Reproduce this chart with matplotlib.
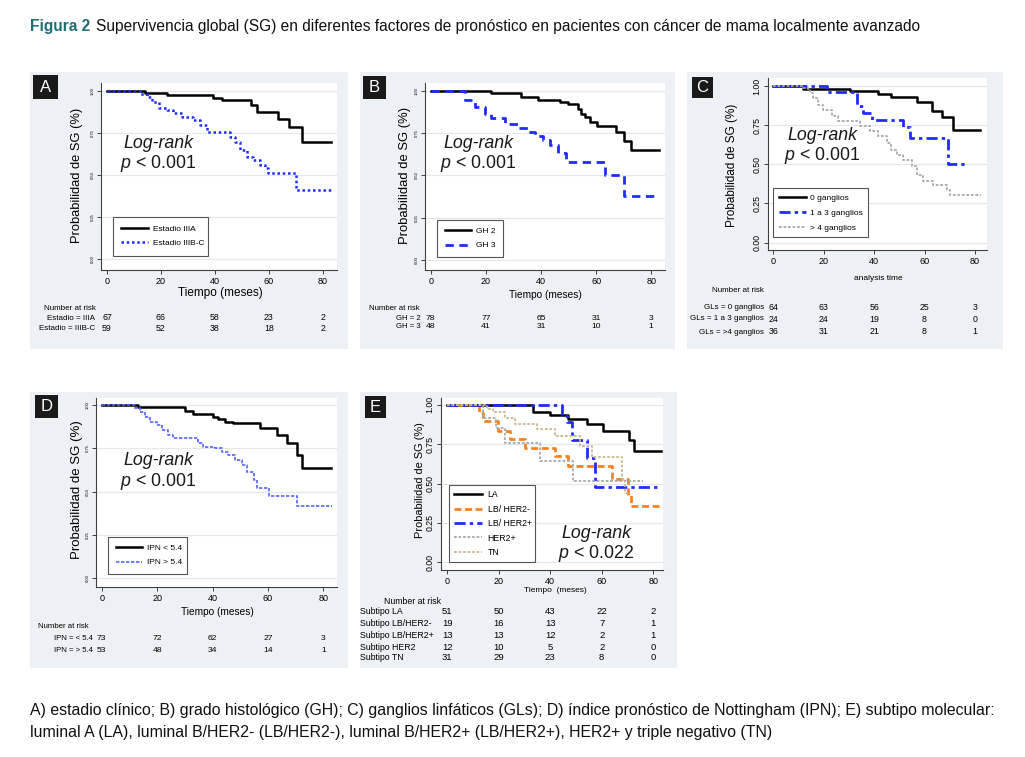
import matplotlib
matplotlib.use("Agg")
import matplotlib.pyplot as plt
import matplotlib.transforms as mtransforms
from matplotlib.patches import Rectangle
from matplotlib.lines import Line2D

plt.rcParams["font.family"] = ["Liberation Sans", "DejaVu Sans"]
plt.rcParams["mathtext.fontset"] = "custom"
plt.rcParams["mathtext.it"] = "Liberation Sans:italic"
plt.rcParams["mathtext.rm"] = "Liberation Sans"

W, H = 1025, 757

# ---- data (time in months, survival) ----
risk_times = [0, 20, 40, 60, 80]
y_tick_labels = ["0.00", "0.25", "0.50", "0.75", "1.00"]

# A) estadio clinico
a_iiia_t = [0, 14.2, 22.2, 39.1, 42.5, 53.5, 55.4, 63.4, 67.4, 72.4, 82.8]
a_iiia_s = [1.0, 0.988, 0.974, 0.958, 0.945, 0.915, 0.875, 0.830, 0.783, 0.698, 0.698]
a_iiibc_t = [0, 12.3, 14.8, 16.6, 19.1, 22.2, 24.6, 27.7, 32.0, 34.5, 36.9, 45.5, 47.4,
             49.2, 51.7, 54.2, 56.6, 58.5, 59.7, 70.2, 82.8]
a_iiibc_s = [1.0, 0.980, 0.964, 0.935, 0.901, 0.885, 0.866, 0.846, 0.826, 0.796, 0.757, 0.727,
             0.698, 0.648, 0.609, 0.589, 0.559, 0.540, 0.514, 0.411, 0.411]
a_risk_labels = ["Estadio = IIIA", "Estadio = IIIB-C"]
a_risk = [[67, 66, 58, 23, 2], [59, 52, 38, 18, 2]]

# B) grado histologico
b_gh2_t = [0, 22.0, 32.9, 38.9, 46.8, 49.8, 53.4, 54.4, 55.8, 57.6, 60.4, 67.3, 70.3, 72.5, 82.8]
b_gh2_s = [1.0, 0.988, 0.965, 0.949, 0.935, 0.921, 0.896, 0.866, 0.843, 0.817, 0.791, 0.758,
           0.705, 0.650, 0.650]
b_gh3_t = [0, 12.3, 15.9, 19.6, 22.0, 26.8, 31.7, 35.3, 37.7, 40.7, 43.1, 46.2, 49.2, 63.1,
           70.3, 82.8]
b_gh3_s = [1.0, 0.945, 0.906, 0.862, 0.837, 0.807, 0.778, 0.758, 0.732, 0.709, 0.679, 0.630,
           0.581, 0.502, 0.378, 0.378]
b_risk_labels = ["GH = 2", "GH = 3"]
b_risk = [[78, 77, 65, 31, 3], [48, 41, 31, 10, 1]]

# C) ganglios linfaticos
c_g0_t = [0, 11.9, 30.4, 41.7, 46.9, 56.9, 62.8, 66.8, 71.4, 82.0]
c_g0_s = [1.0, 0.981, 0.966, 0.949, 0.928, 0.898, 0.843, 0.800, 0.717, 0.717]
c_g13_t = [0, 21.2, 33.1, 35.7, 39.0, 51.6, 54.2, 69.4, 76.7]
c_g13_s = [1.0, 0.962, 0.870, 0.830, 0.785, 0.736, 0.668, 0.500, 0.500]
c_g4_t = [0, 11.9, 13.9, 14.5, 15.9, 17.9, 19.8, 23.1, 25.8, 34.4, 38.3, 41.7, 45.0, 46.9,
          48.9, 51.6, 54.9, 56.9, 59.5, 63.5, 68.8, 70.1, 82.6]
c_g4_s = [1.0, 0.987, 0.980, 0.955, 0.923, 0.880, 0.849, 0.806, 0.774, 0.742, 0.710, 0.678,
          0.636, 0.593, 0.560, 0.528, 0.487, 0.433, 0.391, 0.365, 0.338, 0.305, 0.305]
c_risk_labels = ["GLs = 0 ganglios", "GLs = 1 a 3 ganglios", "GLs = >4 ganglios"]
c_risk = [[64, 63, 56, 25, 3], [24, 24, 19, 8, 0], [36, 31, 21, 8, 1]]

# D) indice pronostico de Nottingham
d_low_t = [0, 13.2, 30.1, 33.1, 40.1, 42.1, 44.5, 47.5, 57.2, 63.2, 66.8, 70.4, 72.2, 82.8]
d_low_s = [1.0, 0.987, 0.967, 0.948, 0.933, 0.917, 0.904, 0.894, 0.865, 0.827, 0.783, 0.712,
           0.635, 0.635]
d_high_t = [0, 12.0, 13.8, 15.6, 17.4, 19.9, 21.7, 24.1, 25.9, 34.9, 36.7, 40.9, 43.3, 45.7,
            48.1, 50.5, 52.3, 54.8, 56.0, 60.2, 70.4, 83.0]
d_high_s = [1.0, 0.981, 0.962, 0.933, 0.904, 0.885, 0.856, 0.827, 0.808, 0.779, 0.760, 0.750,
            0.731, 0.712, 0.683, 0.654, 0.615, 0.567, 0.519, 0.475, 0.417, 0.417]
d_risk_labels = ["IPN = < 5.4", "IPN = > 5.4"]
d_risk = [[73, 72, 62, 27, 3], [53, 48, 34, 14, 1]]

# E) subtipo molecular
e_la_t = [0, 33.2, 39.9, 47.0, 54.1, 60.6, 70.7, 72.6, 82.9]
e_la_s = [1.0, 0.958, 0.936, 0.909, 0.877, 0.835, 0.780, 0.708, 0.708]
e_lbn_t = [0, 12.4, 13.7, 19.8, 24.4, 30.2, 41.8, 47.0, 63.8, 70.3, 71.2, 83.0]
e_lbn_s = [1.0, 0.951, 0.898, 0.835, 0.782, 0.729, 0.676, 0.612, 0.528, 0.430, 0.358, 0.358]
e_lbp_t = [0, 44.4, 46.5, 48.3, 54.1, 57.4, 83.0]
e_lbp_s = [1.0, 0.930, 0.890, 0.775, 0.665, 0.479, 0.479]
e_her2_t = [0, 14.0, 18.9, 22.4, 36.0, 48.9, 76.1]
e_her2_s = [1.0, 0.920, 0.852, 0.760, 0.644, 0.517, 0.517]
e_tn_t = [0, 15.3, 17.9, 22.4, 26.3, 34.7, 41.8, 51.5, 56.1, 67.7, 69.0, 71.0]
e_tn_s = [1.0, 0.972, 0.955, 0.920, 0.877, 0.845, 0.803, 0.740, 0.670, 0.528, 0.440, 0.440]
e_risk_labels = ["Subtipo LA", "Subtipo LB/HER2-", "Subtipo LB/HER2+", "Subtipo HER2", "Subtipo TN"]
e_risk = [[51, 50, 43, 22, 2], [19, 16, 13, 7, 1], [13, 13, 12, 2, 1], [12, 10, 5, 2, 0],
          [31, 29, 23, 8, 0]]

# ---- styles ----
BLACK = dict(color="black", lw=1.8, ls="-")
BLUE_DOT = dict(color="#1f2bff", lw=1.8, ls=(0, (1, 1.1)))
BLUE_DASH = dict(color="#1f2bff", lw=2.0, ls=(0, (3, 2)))
BLUE_LDASH = dict(color="#1f2bff", lw=2.0, ls=(0, (4, 1.5, 1.2, 1.5)))
BLUE_FINE = dict(color="#5563ff", lw=1.2, ls=(0, (2, 1)))
GRAY_DOT = dict(color="#a8a8a8", lw=1.3, ls=(0, (1.5, 1)))
ORANGE_DASH = dict(color="#f5821f", lw=2.0, ls=(0, (2.5, 1.3)))
KHAKI_DOT = dict(color="#c8b88a", lw=1.3, ls=(0, (1.5, 1)))
PANEL_BG = "#edf0f4"
GRID = "#e2e8ee"

fig = plt.figure(figsize=(W / 100, H / 100), dpi=100)


def fx(x):
    return x / W


def fy(y):
    return 1 - y / H


def panel(box, letter, lbox):
    x0, y0, x1, y1 = box
    fig.patches.append(Rectangle((fx(x0), fy(y1)), (x1 - x0) / W, (y1 - y0) / H,
                                 transform=fig.transFigure, facecolor=PANEL_BG,
                                 edgecolor="none", zorder=-2))
    lx0, ly0, lx1, ly1 = lbox
    fig.patches.append(Rectangle((fx(lx0), fy(ly1)), (lx1 - lx0) / W, (ly1 - ly0) / H,
                                 transform=fig.transFigure, facecolor="#1a1a1a",
                                 edgecolor="none", zorder=1))
    fig.text(fx((lx0 + lx1) / 2), fy((ly0 + ly1) / 2), letter, color="white", fontsize=12,
             ha="center", va="center")


def make_axes(box, xlim, ylim, ytick_size, xtick_size):
    left, top, right, bottom = box
    ax = fig.add_axes([fx(left), fy(bottom), (right - left) / W, (bottom - top) / H])
    ax.set_xlim(*xlim)
    ax.set_ylim(*ylim)
    ax.set_facecolor("white")
    ax.spines["top"].set_visible(False)
    ax.spines["right"].set_visible(False)
    for s in ["left", "bottom"]:
        ax.spines[s].set_color("#404040")
        ax.spines[s].set_linewidth(0.8)
    ax.set_xticks(risk_times)
    ax.set_yticks([0, 0.25, 0.5, 0.75, 1.0])
    ax.set_yticklabels(y_tick_labels, rotation=90, va="center")
    ax.tick_params(axis="x", length=3, width=0.7, pad=2, labelsize=xtick_size, color="#404040")
    ax.tick_params(axis="y", length=3, width=0.7, pad=1.5, labelsize=ytick_size,
                   color="#404040")
    ax.grid(axis="y", color=GRID, lw=0.9)
    ax.set_axisbelow(True)
    return ax


def curve(ax, t, s, style):
    ax.step(t, s, where="post", **style)
    return Line2D([], [], **style)


def legend(ax, handles, labels, box, size, spacing, pad):
    x0, y0, x1, y1 = box
    leg = ax.legend(handles, labels, loc="upper left",
                    bbox_to_anchor=(fx(x0), fy(y0), (x1 - x0) / W, 0),
                    bbox_transform=fig.transFigure, mode="expand", borderaxespad=0,
                    fontsize=size, handlelength=3.2, handletextpad=0.6,
                    labelspacing=spacing, borderpad=pad, fancybox=False,
                    framealpha=1, edgecolor="#555555")
    leg.get_frame().set_linewidth(0.8)


def logrank(x, y1, y2, ptxt, size=12.8):
    fig.text(fx(x), fy(y1), "Log-rank", fontsize=size, style="italic",
             ha="center", va="center", color="#1a1a1a")
    fig.text(fx(x), fy(y2), r"$\it{p}$ < " + ptxt, fontsize=size,
             ha="center", va="center", color="#1a1a1a")


def risk_table(ax, head_xy, rows_y, labels, values, label_x, align, size):
    fig.text(fx(head_xy[0]), fy(head_xy[1]), "Number at risk", fontsize=size,
             ha="left", va="center")
    tr = mtransforms.blended_transform_factory(ax.transData, fig.transFigure)
    for lab, vals, yy in zip(labels, values, rows_y):
        fig.text(fx(label_x), fy(yy), lab, fontsize=size, ha=align, va="center")
        for t, v in zip(risk_times, vals):
            ax.text(t, fy(yy), str(v), transform=tr, fontsize=size + 0.5, ha="center",
                    va="center", clip_on=False)


# ---- title ----
fig.text(fx(30), fy(26), "Figura 2", fontsize=11.2, weight="bold",
         color="#1c6f73", ha="left", va="center")
fig.text(fx(96), fy(26),
         "Supervivencia global (SG) en diferentes factores de pronóstico en pacientes con "
         "cáncer de mama localmente avanzado",
         fontsize=11.2, ha="left", va="center", color="#111111")

# ---- panel A ----
panel((30, 72, 348, 349), "A", (33, 75, 58, 99))
ax = make_axes((101, 83, 337, 270), (-2.2, 85.2), (-0.065, 1.047), 3, 6.5)
h1 = curve(ax, a_iiia_t, a_iiia_s, BLACK)
h2 = curve(ax, a_iiibc_t, a_iiibc_s, BLUE_DOT)
legend(ax, [h1, h2], ["Estadio IIIA", "Estadio IIIB-C"], (113, 217, 208, 257), 6, 0.75, 1.0)
logrank(158, 144, 164, "0.001")
fig.text(fx(220), fy(293), "Tiempo (meses)", fontsize=8.5, ha="center", va="center")
fig.text(fx(77), fy(175), "Probabilidad de SG (%)", fontsize=9.3, rotation=90,
         ha="center", va="center")
risk_table(ax, (44, 308), [318, 328], a_risk_labels, a_risk, 95, "right", 5.8)

# ---- panel B ----
panel((360, 72, 675, 349), "B", (363, 76, 386, 99))
ax = make_axes((425, 83, 665, 270), (-2.1, 85.0), (-0.06, 1.047), 3, 6.5)
h1 = curve(ax, b_gh2_t, b_gh2_s, BLACK)
h2 = curve(ax, b_gh3_t, b_gh3_s, BLUE_DASH)
legend(ax, [h1, h2], ["GH 2", "GH 3"], (437, 220, 503, 257), 6, 0.75, 0.9)
logrank(478, 144, 164, "0.001")
fig.text(fx(545), fy(295), "Tiempo (meses)", fontsize=7.3, ha="center", va="center")
fig.text(fx(405), fy(175), "Probabilidad de SG (%)", fontsize=9.4, rotation=90,
         ha="center", va="center")
risk_table(ax, (369, 308), [318, 327], b_risk_labels, b_risk, 421, "right", 5.6)

# ---- panel C ----
panel((687, 72, 1003, 349), "C", (692, 77, 713, 98))
ax = make_axes((768, 78, 987, 250), (-2.1, 84.8), (-0.047, 1.051), 6.3, 6.5)
h1 = curve(ax, c_g0_t, c_g0_s, BLACK)
h2 = curve(ax, c_g13_t, c_g13_s, BLUE_LDASH)
h3 = curve(ax, c_g4_t, c_g4_s, GRAY_DOT)
legend(ax, [h1, h2, h3], ["0 ganglios", "1 a 3 ganglios", "> 4 ganglios"],
       (773, 188, 868, 243), 6, 0.85, 0.7)
logrank(822, 135, 155, "0.001")
fig.text(fx(878), fy(278), "analysis time", fontsize=6, ha="center", va="center")
fig.text(fx(732), fy(165), "Probabilidad de SG (%)", fontsize=8.5, rotation=90,
         ha="center", va="center")
risk_table(ax, (712, 290), [307, 319, 332], c_risk_labels, c_risk, 764, "right", 5.8)

# ---- panel D ----
panel((30, 392, 348, 668), "D", (35, 395, 58, 418))
ax = make_axes((96, 398, 337, 587), (-2.06, 84.9), (-0.05, 1.04), 3, 6.5)
h1 = curve(ax, d_low_t, d_low_s, BLACK)
h2 = curve(ax, d_high_t, d_high_s, BLUE_FINE)
legend(ax, [h1, h2], ["IPN < 5.4", "IPN > 5.4"], (108, 537, 187, 573), 6, 0.75, 0.9)
logrank(158, 460, 481, "0.001")
fig.text(fx(217), fy(612), "Tiempo (meses)", fontsize=7.3, ha="center", va="center")
fig.text(fx(77), fy(490), "Probabilidad de SG (%)", fontsize=9.5, rotation=90,
         ha="center", va="center")
risk_table(ax, (38, 627), [638, 651], d_risk_labels, d_risk, 93, "right", 5.6)

# ---- panel E ----
panel((360, 392, 677, 668), "E", (365, 396, 386, 418))
ax = make_axes((441, 398, 663, 570), (-2.45, 83.8), (-0.049, 1.044), 6.3, 6.5)
h1 = curve(ax, e_la_t, e_la_s, BLACK)
h2 = curve(ax, e_lbn_t, e_lbn_s, ORANGE_DASH)
h3 = curve(ax, e_lbp_t, e_lbp_s, BLUE_LDASH)
h4 = curve(ax, e_her2_t, e_her2_s, GRAY_DOT)
h5 = curve(ax, e_tn_t, e_tn_s, KHAKI_DOT)
legend(ax, [h1, h2, h3, h4, h5], ["LA", "LB/ HER2-", "LB/ HER2+", "HER2+", "TN"],
       (449, 485, 535, 560), 6.3, 0.62, 0.6)
logrank(596, 534, 554, "0.022")
fig.text(fx(555), fy(590), "Tiempo  (meses)", fontsize=6, ha="center", va="center")
fig.text(fx(420), fy(480), "Probabilidad de SG (%)", fontsize=7.9, rotation=90,
         ha="center", va="center")
risk_table(ax, (384, 602), [612, 623, 635, 647, 657], e_risk_labels, e_risk, 360, "left", 6.3)

# ---- caption ----
fig.text(fx(30), fy(711),
         "A) estadio clínico; B) grado histológico (GH); C) ganglios linfáticos (GLs); "
         "D) índice pronóstico de Nottingham (IPN); E) subtipo molecular:",
         fontsize=11.4, ha="left", va="center", color="#111111")
fig.text(fx(30), fy(732),
         "luminal A (LA), luminal B/HER2- (LB/HER2-), luminal B/HER2+ (LB/HER2+), "
         "HER2+ y triple negativo (TN)",
         fontsize=11.4, ha="left", va="center", color="#111111")

fig.savefig("out.png", dpi=100)
